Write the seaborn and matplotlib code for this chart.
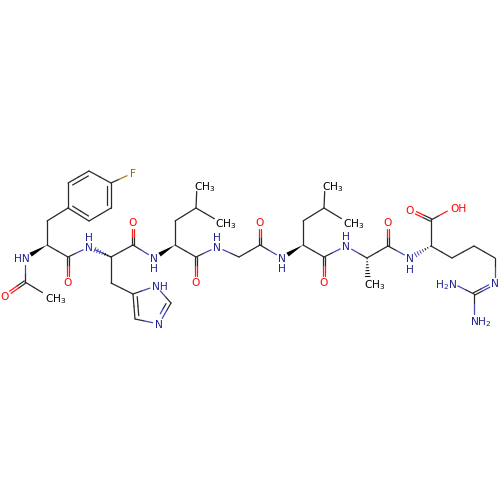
import numpy as np
import pandas as pd
import matplotlib
matplotlib.use("Agg")
import matplotlib.pyplot as plt
import seaborn as sns

# atom table (pixels, y down)
atom_name = ["me1", "ac", "oac", "n1", "ca1", "cb1", "r1", "r2", "r3", "r4", "r5", "r6", "f",
             "c1", "o1", "n2", "ca2", "c2", "o2", "n3", "cb2", "im1", "im2", "im3", "im4", "im5",
             "ca3", "cb3", "cg3", "me2", "me3", "c3", "o3", "n4", "cag", "cg", "og", "n5",
             "ca4", "cb4", "cg4", "me4", "me5", "c4", "o4", "n6", "ca5", "me6", "c5", "o5", "n7",
             "ca6", "cooh", "o6", "oh", "cb6", "cg6", "cd6", "ne", "cz", "nh1", "nh2"]
atom_x = [48, 25, 5, 25, 47, 47, 68, 68, 89, 111, 111, 89, 133,
          68, 68, 89, 111, 133, 133, 154, 111, 133, 156, 171, 159, 135,
          175, 175, 196, 197, 220, 196, 196, 217, 239, 260, 260, 282,
          303, 303, 324, 325, 347, 324, 324, 346, 367, 368, 388, 388, 410,
          431, 431, 410, 453, 452, 474, 495, 495, 474, 452, 474]
atom_y = [296, 282, 296, 258, 245, 221, 208, 183, 171, 183, 208, 221, 173,
          257, 282, 247, 257, 245, 222, 258, 283, 294, 286, 303, 324, 319,
          245, 221, 208, 185, 222, 257, 282, 247, 257, 245, 222, 258,
          245, 221, 208, 185, 222, 257, 282, 246, 258, 283, 246, 222, 258,
          246, 220, 210, 208, 258, 246, 258, 283, 294, 283, 320]
atom_element = ["M", "C", "O", "N", "C", "C", "C", "C", "C", "C", "C", "C", "F",
                "C", "O", "N", "C", "C", "O", "N", "C", "C", "N", "C", "N", "C",
                "C", "C", "C", "M", "M", "C", "O", "N", "C", "C", "O", "N",
                "C", "C", "C", "M", "M", "C", "O", "N", "C", "M", "C", "O", "N",
                "C", "C", "O", "O", "C", "C", "C", "N", "C", "N", "N"]

single_bonds = [("me1", "ac"), ("ac", "n1"), ("ca1", "cb1"), ("cb1", "r1"), ("r1", "r2"),
                ("r3", "r4"), ("r5", "r6"), ("r4", "f"), ("ca1", "c1"), ("c1", "n2"),
                ("n2", "ca2"), ("ca2", "c2"), ("c2", "n3"), ("ca2", "cb2"), ("cb2", "im1"),
                ("im1", "im2"), ("im2", "im3"), ("im4", "im5"), ("ca3", "cb3"), ("cb3", "cg3"),
                ("cg3", "me2"), ("cg3", "me3"), ("ca3", "c3"), ("c3", "n4"), ("n4", "cag"),
                ("cag", "cg"), ("cg", "n5"), ("ca4", "cb4"), ("cb4", "cg4"), ("cg4", "me4"),
                ("cg4", "me5"), ("ca4", "c4"), ("c4", "n6"), ("n6", "ca5"), ("ca5", "c5"),
                ("c5", "n7"), ("ca6", "cooh"), ("cooh", "oh"), ("ca6", "cb6"), ("cb6", "cg6"),
                ("cg6", "cd6"), ("cd6", "ne"), ("cz", "nh1"), ("cz", "nh2")]
carbonyl_bonds = [("ac", "oac"), ("c1", "o1"), ("c2", "o2"), ("c3", "o3"), ("cg", "og"),
                  ("c4", "o4"), ("c5", "o5"), ("cooh", "o6"), ("cz", "ne")]
ring_bonds = [("r2", "r3"), ("r4", "r5"), ("r6", "r1"), ("im5", "im1"), ("im3", "im4")]
wedge_bonds = [("ca1", "n1"), ("ca3", "n3"), ("ca4", "n5")]
hash_bonds = [("ca2", "n2"), ("ca5", "me6"), ("ca6", "n7")]

label_text = ["HN", "O", "CH$_3$", "F", "O", "N", "H", "O", "N", "H", "NH", "N",
              "CH$_3$", "CH$_3$", "O", "H", "N", "O", "N", "H", "CH$_3$", "CH$_3$", "O",
              "H", "N", "O", "CH$_3$", "N", "H", "O", "OH", "N", "H$_2$N", "NH$_2$"]
label_x = [30, 5, 45, 133, 68, 89, 89, 133, 154, 154, 152, 159,
           194, 215, 196, 217, 217, 260, 282, 282, 322, 343, 324,
           346, 346, 388, 364, 410, 410, 410, 450, 495, 457, 470]
label_y = [258, 296, 297, 173, 282, 247, 237, 222, 258, 268, 286, 324,
           185, 222, 282, 237, 247, 222, 258, 268, 185, 222, 282,
           236, 246, 222, 283, 258, 269, 210, 208, 283, 283, 320]
label_ha = ["right", "center", "left", "center", "center", "center", "center", "center",
            "center", "center", "left", "center",
            "left", "left", "center", "center", "center", "center", "center", "center",
            "left", "left", "center",
            "center", "center", "center", "left", "center", "center", "center", "left",
            "center", "right", "left"]
label_el = ["N", "O", "M", "F", "O", "N", "N", "O", "N", "N", "N", "N",
            "M", "M", "O", "N", "N", "O", "N", "N", "M", "M", "O",
            "N", "N", "O", "M", "N", "N", "O", "O", "N", "N", "N"]

bond_colors = {"C": "#2a2a2a", "M": "#2a2a2a", "N": "#4646b4", "O": "#ff1a1a", "F": "#a87c1e"}
text_colors = {"M": "#000000", "N": "#23238e", "O": "#ff0000", "F": "#8f6a10"}

pos = {n: np.array([x, y], dtype=float) for n, x, y in zip(atom_name, atom_x, atom_y)}
elem = dict(zip(atom_name, atom_element))


def trimmed(a, b):
    # stop the bond short of any atom that has a text label
    p, q = pos[a], pos[b]
    d = (q - p) / np.linalg.norm(q - p)
    if elem[a] != "C":
        p = p + d * 6.5
    if elem[b] != "C":
        q = q - d * 6.5
    return p, q


rows = []


def add_segment(p, q, el_a, el_b):
    mid = (p + q) / 2
    for s, e, el in [(p, mid, el_a), (mid, q, el_b)]:
        seg = len(rows)
        rows.append({"x": s[0], "y": s[1], "seg": seg, "el": el})
        rows.append({"x": e[0], "y": e[1], "seg": seg, "el": el})


for a, b in single_bonds:
    p, q = trimmed(a, b)
    add_segment(p, q, elem[a], elem[b])

for a, b in carbonyl_bonds:
    p, q = trimmed(a, b)
    n = np.array([-(q - p)[1], (q - p)[0]]) / np.linalg.norm(q - p)
    add_segment(p + n * 1.3, q + n * 1.3, elem[a], elem[b])
    add_segment(p - n * 1.3, q - n * 1.3, elem[a], elem[b])

ring_centers = {"r": np.mean([pos[f"r{i}"] for i in range(1, 7)], axis=0),
                "i": np.mean([pos[f"im{i}"] for i in range(1, 6)], axis=0)}
for a, b in ring_bonds:
    p, q = trimmed(a, b)
    add_segment(p, q, elem[a], elem[b])
    c = ring_centers[a[0]]
    d = (q - p) / np.linalg.norm(q - p)
    n = np.array([-d[1], d[0]])
    if np.dot(c - p, n) < 0:
        n = -n
    add_segment(p + n * 4 + d * 3, q + n * 4 - d * 3, elem[a], elem[b])

df = pd.DataFrame(rows)

sns.set_theme(style="white")
plt.rcParams["mathtext.default"] = "regular"
plt.rcParams["font.family"] = ["DejaVu Sans"]

fig = plt.figure(figsize=(5, 5), dpi=100)
ax = fig.add_axes([0, 0, 1, 1])
sns.lineplot(data=df, x="x", y="y", units="seg", hue="el", palette=bond_colors,
             estimator=None, sort=False, legend=False, linewidth=0.9, ax=ax)

# stereo bonds
for a, b in wedge_bonds:
    p, q = trimmed(a, b)
    n = np.array([-(q - p)[1], (q - p)[0]]) / np.linalg.norm(q - p)
    ax.fill([p[0], q[0] + n[0] * 2.2, q[0] - n[0] * 2.2],
            [p[1], q[1] + n[1] * 2.2, q[1] - n[1] * 2.2], color="black", lw=0)

for a, b in hash_bonds:
    p, q = trimmed(a, b)
    n = np.array([-(q - p)[1], (q - p)[0]]) / np.linalg.norm(q - p)
    for t in np.linspace(0.05, 1, 7):
        c = p + (q - p) * t
        w = 2.4 * t
        col = bond_colors["N"] if (elem[b] == "N" and t > 0.5) else "black"
        ax.plot([c[0] - n[0] * w, c[0] + n[0] * w], [c[1] - n[1] * w, c[1] + n[1] * w],
                color=col, lw=0.7)

for t, x, y, ha, el in zip(label_text, label_x, label_y, label_ha, label_el):
    ax.text(x, y, t, ha=ha, va="center_baseline", fontsize=7.7, color=text_colors[el])

ax.set_xlim(0, 500)
ax.set_ylim(500, 0)
ax.axis("off")
fig.savefig("out.png", dpi=100)
